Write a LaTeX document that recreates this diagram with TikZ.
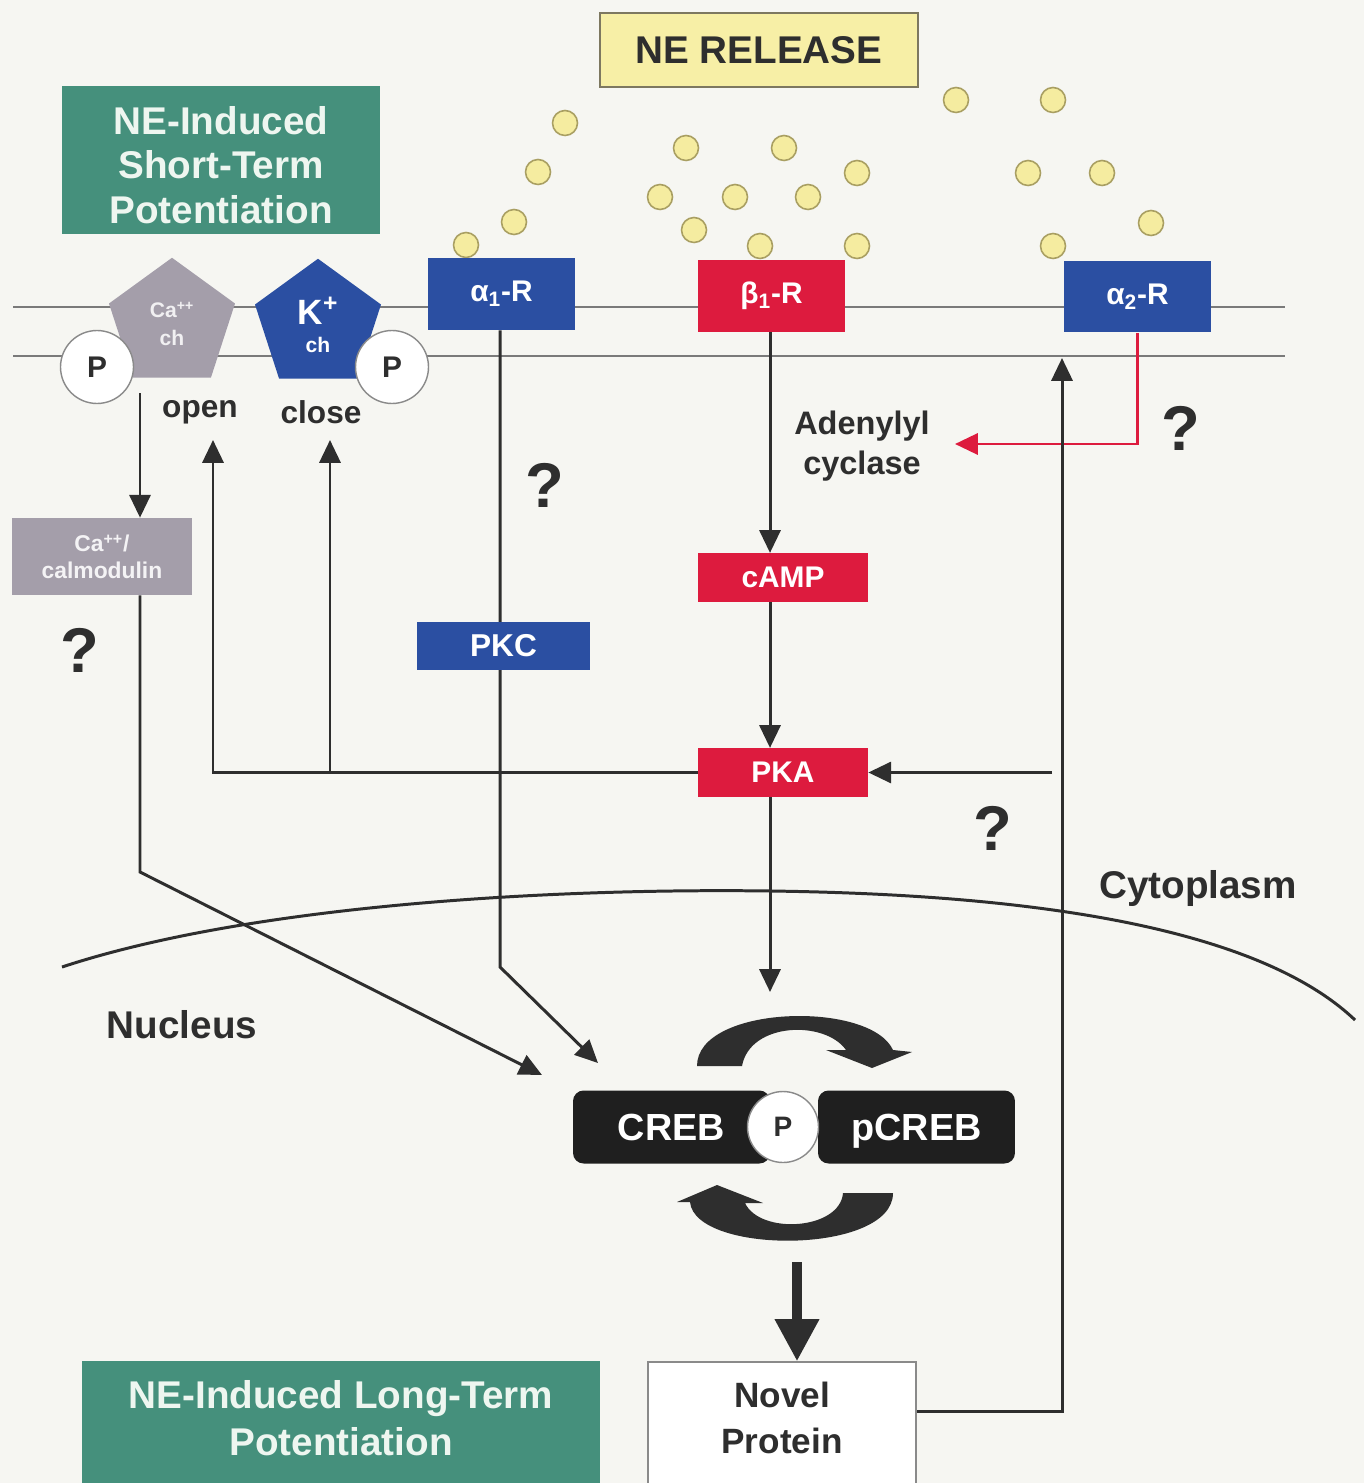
\documentclass[tikz,border=0pt]{standalone}
\usepackage{fontspec}
\setmainfont{Liberation Sans}
\usetikzlibrary{shapes.geometric,arrows.meta,calc}
\definecolor{bgc}{HTML}{F6F6F2}
\definecolor{dark}{HTML}{2E2E2E}
\definecolor{memb}{HTML}{7A7A7A}
\definecolor{ntgreen}{HTML}{45907C}
\definecolor{rblue}{HTML}{2B4FA2}
\definecolor{rred}{HTML}{DD1B3E}
\definecolor{cagray}{HTML}{A49EAA}
\definecolor{yel}{HTML}{F7EFA6}
\definecolor{yelb}{HTML}{7D7860}
\definecolor{dotf}{HTML}{F5ECA0}
\definecolor{dotb}{HTML}{A99F62}
\definecolor{pale}{HTML}{EEF6F0}
\definecolor{cir}{HTML}{8A8A8A}
\pgfdeclarelayer{bg}
\pgfsetlayers{bg,main}
\newcommand\fsz[2]{\fontsize{#1}{#2}\selectfont}
\tikzset{
 rect/.style={rectangle, inner sep=0pt, align=center},
 recep/.style={rect, minimum width=2.94cm, minimum height=1.44cm, text=white, font=\bfseries\fsz{17}{20}},
 enz/.style={rect, minimum width=3.4cm, minimum height=0.97cm, fill=rred, text=white, font=\bfseries\fsz{17}{20}},
 arr/.style={draw=dark, line width=1.7pt, -{Triangle[length=13pt,width=12pt]}},
 ln/.style={draw=dark, line width=1.7pt},
 redarr/.style={draw=rred, line width=1.7pt, -{Triangle[length=13pt,width=12pt]}},
 ne/.style={circle, draw=dotb, fill=dotf, line width=0.9pt, minimum size=0.5cm, inner sep=0pt},
 pcirc/.style={circle, draw=cir, fill=white, line width=0.8pt, minimum size=1.46cm, inner sep=0pt, text=dark, font=\bfseries\fsz{17}{20}},
 qm/.style={inner sep=0pt, text=dark, font=\bfseries\fsz{36}{40}},
 lbl/.style={inner sep=0pt, text=dark, align=center},
 greenbox/.style={rect, fill=ntgreen, text=pale},
 penta/.style={regular polygon, regular polygon sides=5, minimum size=2.65cm, inner sep=0pt, align=center},
 crebbox/.style={rect, fill=black!88, rounded corners=6pt, minimum width=3.94cm, minimum height=1.46cm, text=white, font=\bfseries\fsz{21.5}{24}, text height=20pt, text depth=4.5pt},
}
\begin{document}
\begin{tikzpicture}[x=0.02cm,y=-0.02cm]
\begin{pgfonlayer}{bg}
\fill[bgc] (0,0) rectangle (1364,1483);
\draw[memb, line width=1.1pt] (13,307) -- (1285,307);
\draw[memb, line width=1.1pt] (13,356) -- (1285,356);
\end{pgfonlayer}
\useasboundingbox (0,0) rectangle (1364,1483);

% NE dots
\foreach \x/\y [count=\i] in {565/123,538/172,514/222,466/245,686/148,784/148,857/173,660/197,735/197,808/197,694/230,760/246,857/246,956/100,1053/100,1028/173,1102/173,1053/246,1151/223}
  \node[ne] (ne\i) at (\x,\y) {};

\node[rect, fill=yel, draw=yelb, line width=1pt, minimum width=6.36cm, minimum height=1.48cm, text=dark, font=\bfseries\fsz{22}{26}] (rel) at (759,50) {NE RELEASE};
\node[greenbox, minimum width=6.36cm, minimum height=2.96cm] (stp) at (221,160) {};
\node[lbl, text=pale, font=\bfseries\fsz{22}{25.5}] (stpt) at (221,165) {NE-Induced\\Short-Term\\Potentiation};

% receptors
\node[recep, fill=rblue] (a1) at (501.5,294) {α\textsubscript{1}-R};
\node[recep, fill=rred] (b1) at (771.5,296) {β\textsubscript{1}-R};
\node[recep, fill=rblue] (a2) at (1137.5,296.5) {α\textsubscript{2}-R};

% channels
\node[penta, fill=cagray, text=white!85!cagray, font=\bfseries\fsz{12}{16}] (cach) at (172,324) {Ca\textsuperscript{++}\\ch};
\node[penta, fill=rblue, text=white, font=\bfseries\fsz{12}{16}] (kch) at (318,325) {{\fsz{20}{20}K\textsuperscript{+}}\\ch};
\node[pcirc] (p1) at (97,367) {P};
\node[pcirc] (p2) at (392,367) {P};
\node[lbl, font=\bfseries\fsz{18}{20}] (open) at (200,412) {open};
\node[lbl, font=\bfseries\fsz{18}{20}] (close) at (321,412) {close};

\node[rect, fill=cagray, minimum width=3.6cm, minimum height=1.54cm, text=white!88!cagray, font=\bfseries\fsz{13}{15}] (cam) at (102,556.5) {Ca\textsuperscript{++}/\\calmodulin};
\node[rect, fill=rblue, minimum width=3.46cm, minimum height=0.96cm, text=white, font=\bfseries\fsz{18}{20}] (pkc) at (503.5,646) {PKC};
\node[enz] (camp) at (783,577.5) {cAMP};
\node[enz] (pka) at (783,772.5) {PKA};
\node[lbl, font=\bfseries\fsz{18.5}{22.7}] (ac) at (862,446) {Adenylyl\\cyclase};

\node[qm] (q1) at (545,485) {?};
\node[qm] (q2) at (80,650) {?};
\node[qm] (q3) at (1181,428) {?};
\node[qm] (q4) at (993,828) {?};

\node[lbl, font=\bfseries\fsz{22}{24}] (cyt) at (1198,888) {Cytoplasm};
\node[lbl, font=\bfseries\fsz{22}{24}] (nuc) at (182,1025) {Nucleus};

% CREB
\node[crebbox] (creb) at (671.5,1127) {CREB};
\node[crebbox] (pcreb) at (916.5,1127) {pCREB};
\node[pcirc, minimum size=1.42cm, font=\bfseries\fsz{16}{18}] (pc) at (783,1127) {P};

% cycle arrows
\fill[dark] (697,1066) .. controls (697,1005) and (870,1000) .. (893,1050) -- (912,1052) -- (872,1068) -- (826,1050) -- (846,1050) .. controls (825,1020) and (750,1022) .. (742,1066) -- cycle;
\fill[dark] (893,1193) .. controls (893,1255) and (695,1255) .. (690,1202) -- (677,1202) -- (717,1185) -- (763,1203) -- (745,1203) .. controls (760,1235) and (840,1230) .. (843,1193) -- cycle;

% bottom boxes
\node[rect, fill=white, draw=cir, line width=0.9pt, minimum width=5.36cm, minimum height=2.44cm] (np) at (782,1423) {};
\node[lbl, font=\bfseries\fsz{20}{26.5}] (npt) at (782,1418) {Novel\\Protein};
\node[greenbox, minimum width=10.36cm, minimum height=2.46cm] (ltp) at (341,1422) {};
\node[lbl, text=pale, font=\bfseries\fsz{22}{26.5}] (ltpt) at (341,1418) {NE-Induced Long-Term\\Potentiation};

% connectors
\begin{pgfonlayer}{bg}
\coordinate (caS) at (140,393);
\draw[arr] (caS) -- (caS |- cam.north);
\coordinate (k1) at (140,872);
\coordinate (k1t) at (542,1075);
\draw[arr] (cam.south -| k1) -- (k1) -- (k1t);
\coordinate (k2) at (500,967);
\coordinate (k2t) at (598,1063);
\draw[arr] (a1.south -| k2) -- (k2) -- (k2t);
\coordinate (xb) at (770,0);
\draw[arr] (b1.south -| xb) -- (camp.north -| xb);
\draw[arr] (camp.south -| xb) -- (pka.north -| xb);
\coordinate (k3) at (770,992);
\draw[arr] (pka.south -| xb) -- (k3);
\coordinate (oT) at (213,440);
\coordinate (cT) at (330,440);
\draw[arr] (pka.west) -| (oT);
\draw[arr] (pka.west -| cT) -- (cT);
\coordinate (rS) at (1052,772.5);
\draw[arr] (rS) -- (pka.east);
\coordinate (acT) at (955,444);
\draw[redarr] (a2.south) |- (acT);
\coordinate (fb) at (1062,358);
\draw[arr] ($(np.east)+(0,-12)$) -| (fb);
\coordinate (tS) at (797,1262);
\draw[draw=dark, line width=5.5pt, -{Triangle[length=24pt,width=24pt]}] (tS) -- (tS |- np.north);
\draw[ln] (62,967) .. controls (250,905) and (550,888) .. (770,891) .. controls (1000,894) and (1250,920) .. (1355,1020);
\end{pgfonlayer}
\end{tikzpicture}
\end{document}
